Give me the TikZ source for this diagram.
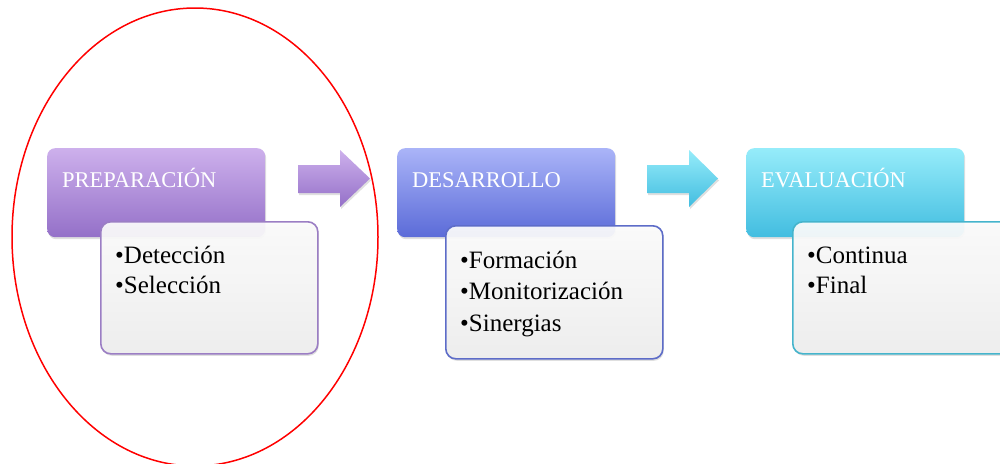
\documentclass[tikz,border=0pt]{standalone}
\usepackage{fontspec}
\setmainfont{Liberation Serif}
\usetikzlibrary{shadows}
\definecolor{pTop}{HTML}{CDB0EC}
\definecolor{pBot}{HTML}{9470C8}
\definecolor{pLine}{HTML}{9B7EC4}
\definecolor{bTop}{HTML}{AAB4F8}
\definecolor{bBot}{HTML}{5B6BD8}
\definecolor{bLine}{HTML}{5D6CC8}
\definecolor{cTop}{HTML}{96ECFA}
\definecolor{cBot}{HTML}{42BDE0}
\definecolor{cLine}{HTML}{45B4CC}
\definecolor{boxTop}{HTML}{FDFDFD}
\definecolor{boxBot}{HTML}{EFEFEF}
\tikzset{
  hdr/.style={rectangle, rounded corners=8pt, anchor=north west,
    minimum width=218pt, minimum height=89pt, draw=none,
    drop shadow={opacity=0.25, shadow xshift=1pt, shadow yshift=-2pt}},
  content/.style={rectangle, rounded corners=10pt, anchor=north west,
    minimum width=217pt, minimum height=132pt, line width=1.6pt,
    top color=boxTop, bottom color=boxBot, fill opacity=0.92, draw opacity=1,
    drop shadow={opacity=0.25, shadow xshift=1pt, shadow yshift=-2pt}},
  htext/.style={anchor=base west, text=white, font=\fontsize{22.5}{27}\selectfont, inner sep=0pt},
  itemtext/.style={anchor=base west, text=black, inner sep=0pt,
    font=\fontsize{25}{29}\selectfont},
  blockarrow/.style={draw=none, drop shadow={opacity=0.25, shadow xshift=1pt, shadow yshift=-2pt}}
}
\begin{document}
\begin{tikzpicture}[x=1pt,y=-1pt]
\useasboundingbox (0,0) rectangle (1000,463);
\fill[white] (0,0) rectangle (1000,463);
% headers
\node[hdr, top color=pTop, bottom color=pBot] (h1) at (47,148) {};
\node[hdr, top color=bTop, bottom color=bBot] (h2) at (397,148) {};
\node[hdr, top color=cTop, bottom color=cBot] (h3) at (746,148) {};
\node[htext] (t1) at (62,187) {PREPARACIÓN};
\node[htext] (t2) at (412,187) {DESARROLLO};
\node[htext] (t3) at (761,187) {EVALUACIÓN};
% content boxes
\node[content, draw=pLine] (c1) at (100,221) {};
\node[content, draw=bLine, minimum height=133pt] (c2) at (445,225) {};
\node[content, draw=cLine, minimum width=230pt] (c3) at (792,221) {};
\node[itemtext] (i11) at (115,263) {•Detección};
\node[itemtext] (i12) at (115,293) {•Selección};
\node[itemtext] (i21) at (460,268) {•Formación};
\node[itemtext] (i22) at (460,299) {•Monitorización};
\node[itemtext] (i23) at (460,331) {•Sinergias};
\node[itemtext] (i31) at (807,263) {•Continua};
\node[itemtext] (i32) at (807,293) {•Final};
% block arrows
\path[blockarrow, top color=pTop, bottom color=pBot]
  (298,165) -- (340,165) -- (340,150) -- (370,178.5) -- (340,207) -- (340,193) -- (298,193) -- cycle;
\path[blockarrow, top color=cTop, bottom color=cBot]
  (647,165) -- (689,165) -- (689,150) -- (718,178.5) -- (689,207) -- (689,193) -- (647,193) -- cycle;
% red ellipse
\draw[red, line width=1.5pt] (195,237) ellipse [x radius=183, y radius=229];
\end{tikzpicture}
\end{document}
